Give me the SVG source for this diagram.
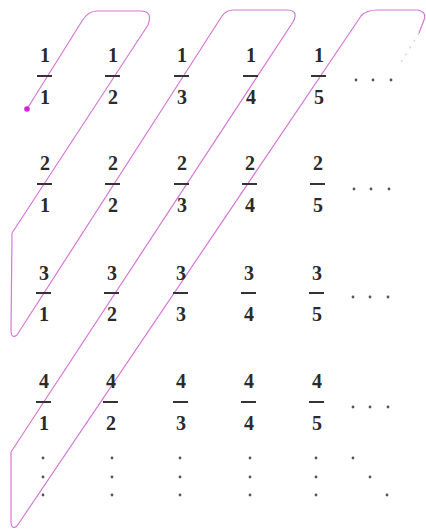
<svg xmlns="http://www.w3.org/2000/svg" width="426" height="530" viewBox="0 0 426 530">
<style>
.n{font-family:"Liberation Serif","Times New Roman",serif;font-size:20px;font-weight:bold;fill:#2a2a2a;text-anchor:middle}
.b{fill:#333}
.d{fill:#555}
.p{fill:none;stroke:#d677d6;stroke-width:1.2;stroke-linejoin:round}
</style>
<defs>
<g id="bar"><rect class="b" x="-8" y="-1" width="15" height="2"/></g>
<g id="hd"><circle class="d" cx="0" cy="0" r="1.4"/><circle class="d" cx="17" cy="0" r="1.4"/><circle class="d" cx="35" cy="0" r="1.4"/></g>
<g id="vd"><circle class="d" cx="0" cy="0" r="1.4"/><circle class="d" cx="0" cy="19" r="1.4"/><circle class="d" cx="0" cy="37" r="1.4"/></g>
</defs>
<rect width="426" height="530" fill="#fff"/>
<g id="connectors">
<path class="p" d="M27,109 L82,21 Q88,11 97,11 L142,11 Q153,12 148,25 L12,233 L11,332 Q12,339 17,335 L222,16 Q226,10 234,10 L288,10 Q299,11 293,22 L11,452 L11,523 Q12,530 17,526 L361,16 Q366,10 378,10 L418,10 Q427,12 424,20 L419,33"/>
<path class="p" d="M419,33 L400,64" stroke-dasharray="2 6" opacity="0.5"/>
<circle cx="27" cy="109" r="2.8" fill="#d61fd6"/>
</g>
<g id="r1c1"><text class="n" x="45" y="62">1</text><use href="#bar" x="45" y="76"/><text class="n" x="45" y="104">1</text></g>
<g id="r1c2"><text class="n" x="113" y="62">1</text><use href="#bar" x="113" y="76"/><text class="n" x="113" y="104">2</text></g>
<g id="r1c3"><text class="n" x="182" y="62">1</text><use href="#bar" x="182" y="76"/><text class="n" x="182" y="104">3</text></g>
<g id="r1c4"><text class="n" x="251" y="62">1</text><use href="#bar" x="251" y="76"/><text class="n" x="251" y="104">4</text></g>
<g id="r1c5"><text class="n" x="319" y="62">1</text><use href="#bar" x="319" y="76"/><text class="n" x="319" y="104">5</text></g>
<g id="r1dots"><use href="#hd" x="356" y="80"/></g>
<g id="r2c1"><text class="n" x="45" y="170">2</text><use href="#bar" x="45" y="184"/><text class="n" x="45" y="212">1</text></g>
<g id="r2c2"><text class="n" x="113" y="170">2</text><use href="#bar" x="113" y="184"/><text class="n" x="113" y="212">2</text></g>
<g id="r2c3"><text class="n" x="182" y="170">2</text><use href="#bar" x="182" y="184"/><text class="n" x="182" y="212">3</text></g>
<g id="r2c4"><text class="n" x="250" y="170">2</text><use href="#bar" x="250" y="184"/><text class="n" x="250" y="212">4</text></g>
<g id="r2c5"><text class="n" x="318" y="170">2</text><use href="#bar" x="318" y="184"/><text class="n" x="318" y="212">5</text></g>
<g id="r2dots"><use href="#hd" x="354" y="189"/></g>
<g id="r3c1"><text class="n" x="44" y="280">3</text><use href="#bar" x="44" y="293"/><text class="n" x="44" y="321">1</text></g>
<g id="r3c2"><text class="n" x="112" y="280">3</text><use href="#bar" x="112" y="293"/><text class="n" x="112" y="321">2</text></g>
<g id="r3c3"><text class="n" x="181" y="280">3</text><use href="#bar" x="181" y="293"/><text class="n" x="181" y="321">3</text></g>
<g id="r3c4"><text class="n" x="249" y="280">3</text><use href="#bar" x="249" y="293"/><text class="n" x="249" y="321">4</text></g>
<g id="r3c5"><text class="n" x="317" y="280">3</text><use href="#bar" x="317" y="293"/><text class="n" x="317" y="321">5</text></g>
<g id="r3dots"><use href="#hd" x="353" y="297"/></g>
<g id="r4c1"><text class="n" x="44" y="388">4</text><use href="#bar" x="44" y="402"/><text class="n" x="44" y="430">1</text></g>
<g id="r4c2"><text class="n" x="111" y="388">4</text><use href="#bar" x="111" y="402"/><text class="n" x="111" y="430">2</text></g>
<g id="r4c3"><text class="n" x="181" y="388">4</text><use href="#bar" x="181" y="402"/><text class="n" x="181" y="430">3</text></g>
<g id="r4c4"><text class="n" x="249" y="388">4</text><use href="#bar" x="249" y="402"/><text class="n" x="249" y="430">4</text></g>
<g id="r4c5"><text class="n" x="317" y="388">4</text><use href="#bar" x="317" y="402"/><text class="n" x="317" y="430">5</text></g>
<g id="r4dots"><use href="#hd" x="353" y="407"/></g>
<g id="vdots">
<use href="#vd" x="43" y="458"/>
<use href="#vd" x="112" y="458"/>
<use href="#vd" x="180" y="458"/>
<use href="#vd" x="250" y="458"/>
<use href="#vd" x="316" y="458"/>
<circle class="d" cx="353" cy="458" r="1.4"/><circle class="d" cx="370" cy="477" r="1.4"/><circle class="d" cx="387" cy="495" r="1.4"/>
</g>
</svg>
